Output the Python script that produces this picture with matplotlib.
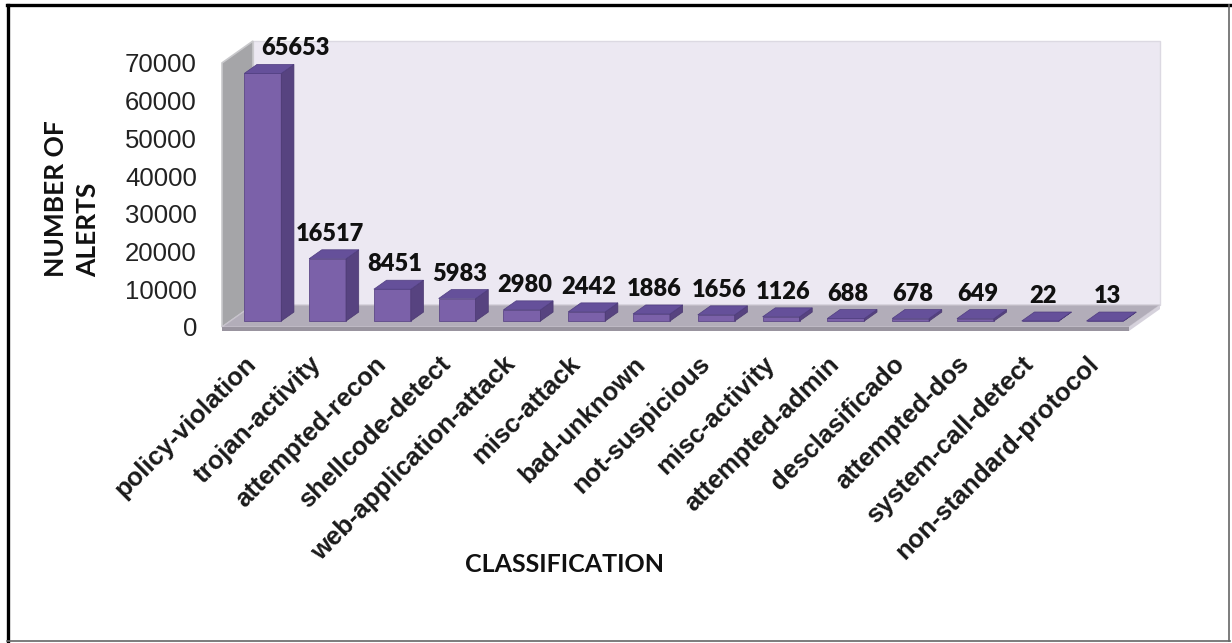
import matplotlib
matplotlib.use("Agg")
import matplotlib.pyplot as plt
from matplotlib.patches import Polygon
import numpy as np

categories = ["policy-violation", "trojan-activity", "attempted-recon", "shellcode-detect",
              "web-application-attack", "misc-attack", "bad-unknown", "not-suspicious",
              "misc-activity", "attempted-admin", "desclasificado", "attempted-dos",
              "system-call-detect", "non-standard-protocol"]
alerts = [65653, 16517, 8451, 5983, 2980, 2442, 1886, 1656, 1126, 688, 678, 649, 22, 13]
y_ticks = [0, 10000, 20000, 30000, 40000, 50000, 60000, 70000]

W, H = 1232, 643
fig = plt.figure(figsize=(W / 100, H / 100), dpi=100)
fig.patch.set_facecolor("white")

# pixel geometry of the chart box
px_left, px_right, px_floor, px_top = 222, 1160, 327, 41
ax = fig.add_axes([px_left / W, 1 - px_floor / H, (px_right - px_left) / W, (px_floor - px_top) / H])

n = len(categories)
vmax = y_ticks[-1]
DXc = 31 / ((px_right - 31 - px_left) / n)        # depth shift in category units
px_per_val = (px_floor - 62) / vmax
DYv = 22 / px_per_val                            # depth shift in value units

ax.set_xlim(-0.5, n - 0.5 + DXc)
ax.set_ylim(0, vmax + DYv)
ax.set_facecolor("none")
for s in ax.spines.values():
    s.set_visible(False)


def P(x, v, z):
    return (x + z * DXc, v + z * DYv)


def poly(pts, fc, ec="none", lw=0.0, z=1, clip=False):
    ax.add_patch(Polygon(pts, closed=True, facecolor=fc, edgecolor=ec, lw=lw, zorder=z, clip_on=clip))


x0, x1 = -0.5, n - 0.5
# back wall
poly([P(x0, 0, 1), P(x1, 0, 1), P(x1, vmax, 1), P(x0, vmax, 1)], "#ece8f2", "#dcd9e2", 1.0, 0)
# left wall
poly([P(x0, 0, 0), P(x0, vmax, 0), P(x0, vmax, 1), P(x0, 0, 1)], "#a5a5a8", "#c9c9cc", 1.2, 1)
# floor top
poly([P(x0, 0, 0), P(x1, 0, 0), P(x1, 0, 1), P(x0, 0, 1)], "#b2adb9", "#c8c3cd", 0.8, 1)
# floor front edge (thickness)
thick = 4 / px_per_val
poly([P(x0, -thick, 0), P(x1, -thick, 0), P(x1, 0, 0), P(x0, 0, 0)], "#99949f", z=1)
poly([P(x1, -thick, 0), P(x1, -thick, 1), P(x1, 0, 1), P(x1, 0, 0)], "#d6d2dc", z=1)

# bars (pseudo 3-D)
w = 0.57
z0, z1 = 0.27, 0.68
xs = np.arange(n)
ax.bar(xs + z0 * DXc, alerts, width=w, bottom=z0 * DYv, color="#7b61a9",
       edgecolor="#5d4888", linewidth=0.6, zorder=3)
for i, v in enumerate(alerts):
    a, b = i - w / 2, i + w / 2
    poly([P(b, 0, z0), P(b, v, z0), P(b, v, z1), P(b, 0, z1)], "#574380", "#4a3870", 0.5, 3)
    poly([P(a, v, z0), P(b, v, z0), P(b, v, z1), P(a, v, z1)], "#65509a", "#4f3d80", 0.5, 3)

# value labels
zm = (z0 + z1) / 2
lab_off = 9 / px_per_val
min_x = x0 + DXc + 0.65
for i, v in enumerate(alerts):
    lx = max(i + zm * DXc - 0.06, min_x)
    ax.text(lx, v + z1 * DYv + lab_off, f"{v}", ha="center", va="baseline",
            fontsize=17, fontweight="heavy", family="Lato", color="#111111", zorder=5)

# y ticks
ax.set_yticks(y_ticks)
ax.set_yticklabels([str(t) for t in y_ticks], family="Liberation Sans", fontsize=18.5, color="#222222")
ax.tick_params(axis="y", length=0, pad=18)

# x tick labels
ax.set_xticks(xs - 0.03)
ax.set_xticklabels(categories, family="Liberation Sans", fontweight="bold", fontsize=18.5, color="#1a1a1a")
ax.tick_params(axis="x", length=0, pad=24)
for t in ax.get_xticklabels():
    t.set_rotation(45)
    t.set_ha("right")
    t.set_va("center")
    t.set_rotation_mode("anchor")

# axis titles
fig.text(72 / W, 1 - 277 / H, "NUMBER OF\nALERTS", rotation=90, ha="center", va="bottom",
         multialignment="left", fontsize=19, fontweight="bold", family="Lato", linespacing=1.4,
         color="#111111")
fig.text(564 / W, 1 - 565 / H, "CLASSIFICATION", ha="center", va="center",
         fontsize=18, fontweight="bold", family="Lato", color="#111111")

# outer frame
fig.add_artist(plt.Line2D([8 / W, 8 / W], [1 - 641 / H, 1 - 5 / H], color="black", lw=2.4))
fig.add_artist(plt.Line2D([7 / W, 1230 / W], [1 - 5 / H, 1 - 5 / H], color="black", lw=2.4))
fig.add_artist(plt.Line2D([1229 / W, 1229 / W], [1 - 641 / H, 1 - 5 / H], color="#666666", lw=1.2))
fig.add_artist(plt.Line2D([7 / W, 1230 / W], [1 - 641 / H, 1 - 641 / H], color="#666666", lw=1.2))

fig.savefig("out.png", dpi=100)
